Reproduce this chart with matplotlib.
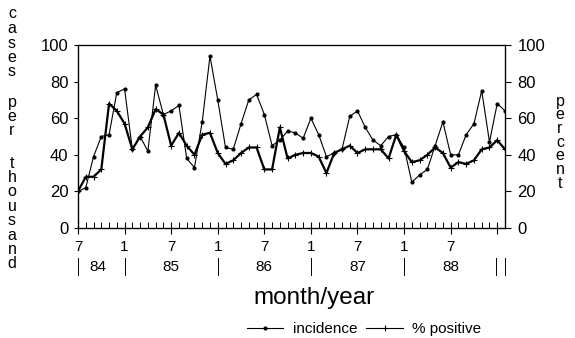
import matplotlib
matplotlib.use("Agg")
import matplotlib.pyplot as plt
from matplotlib.lines import Line2D
import numpy as np

plt.rcParams['font.family'] = ['Liberation Sans', 'DejaVu Sans']

# monthly data, July 1984 .. February 1989
incidence = [20, 22, 39, 50, 51, 74, 76, 43, 50, 42, 78, 62, 64, 67, 38, 33, 58, 94, 70, 44,
             43, 57, 70, 73, 62, 45, 48, 53, 52, 49, 60, 51, 39, 41, 43, 61, 64, 55, 48, 45,
             50, 51, 44, 25, 29, 32, 45, 58, 40, 40, 51, 57, 75, 47, 68, 64]
pct_positive = [20, 28, 28, 32, 68, 64, 57, 43, 50, 55, 65, 62, 45, 52, 45, 40, 51, 52, 41, 35,
                37, 41, 44, 44, 32, 32, 55, 38, 40, 41, 41, 39, 30, 41, 43, 45, 41, 43, 43, 43,
                38, 51, 42, 36, 37, 40, 44, 41, 33, 36, 35, 37, 43, 44, 48, 43]
month_labels = ['7', '1', '7', '1', '7', '1', '7', '1', '7', '']
year_labels = ['84', '85', '86', '87', '88']
year_pos = [2.5, 12, 24, 36, 48]
year_bars = [0, 6, 18, 30, 42, 53.8, 55]
yticks = [0, 20, 40, 60, 80, 100]

W, H = 575, 338
fig = plt.figure(figsize=(W / 100, H / 100), dpi=100)
L, R, T, B = 78, 505, 45, 228
ax = fig.add_axes([L / W, 1 - B / H, (R - L) / W, (B - T) / H])

x = np.arange(len(incidence))
ax.plot(x, incidence, color='black', lw=0.8, marker='o', ms=2.0, zorder=3)
ax.plot(x, pct_positive, color='black', lw=1.6, marker='+', ms=5, mew=0.8, zorder=4)

ax.set_xlim(0, 55)
ax.set_ylim(0, 100)
for s in ax.spines.values():
    s.set_linewidth(0.9)

major = np.arange(0, 56, 6)
ax.set_xticks(major)
ax.set_xticklabels(month_labels)
ax.set_xticks(np.arange(0, 56, 1), minor=True)
ax.tick_params(axis='x', which='major', direction='inout', length=9, width=0.8,
               pad=4, labelsize=11)
ax.tick_params(axis='x', which='minor', direction='in', length=4, width=0.7)

ax.set_yticks(yticks)
ax.set_yticklabels([str(v) for v in yticks])
ax.tick_params(axis='y', which='major', direction='out', length=3, width=0.8,
               pad=4, labelsize=12)

ax2 = ax.twinx()
ax2.set_ylim(0, 100)
ax2.set_yticks(yticks)
ax2.set_yticklabels([str(v) for v in yticks])
ax2.tick_params(axis='y', direction='out', length=4, width=0.8, pad=5, labelsize=12)

# year row
trans = ax.get_xaxis_transform()
ah = B - T
for lab, p in zip(year_labels, year_pos):
    ax.text(p, (B - 267) / ah, lab, transform=trans, ha='center', va='center',
            fontsize=11, clip_on=False)
for p in year_bars:
    ax.plot([p, p], [(B - 258) / ah, (B - 275) / ah], transform=trans, color='black',
            lw=0.7, clip_on=False)

fig.text(314 / W, 1 - 298 / H, 'month/year', ha='center', va='center', fontsize=17.5)

# stacked vertical axis titles
def stacked(word, xpx, ystart, step):
    for i, ch in enumerate(word):
        fig.text(xpx / W, 1 - (ystart + i * step) / H, ch, ha='center', va='center',
                 fontsize=11.5)

stacked('cases', 12, 14, 14.5)
stacked('per', 12, 102, 14.2)
stacked('thousand', 12, 163, 14.4)
stacked('percent', 560, 101, 13.7)

handles = [Line2D([], [], color='black', lw=0.8, marker='o', ms=2.0),
           Line2D([], [], color='black', lw=0.8, marker='+', ms=5, mew=0.8)]
fig.legend(handles, ['incidence', '% positive'], loc='center', ncol=2,
           bbox_to_anchor=(364 / W, 1 - 329 / H), frameon=False, fontsize=11,
           handlelength=2.4, columnspacing=0.6, handletextpad=0.6, numpoints=1)

fig.savefig('out.png', dpi=100)
